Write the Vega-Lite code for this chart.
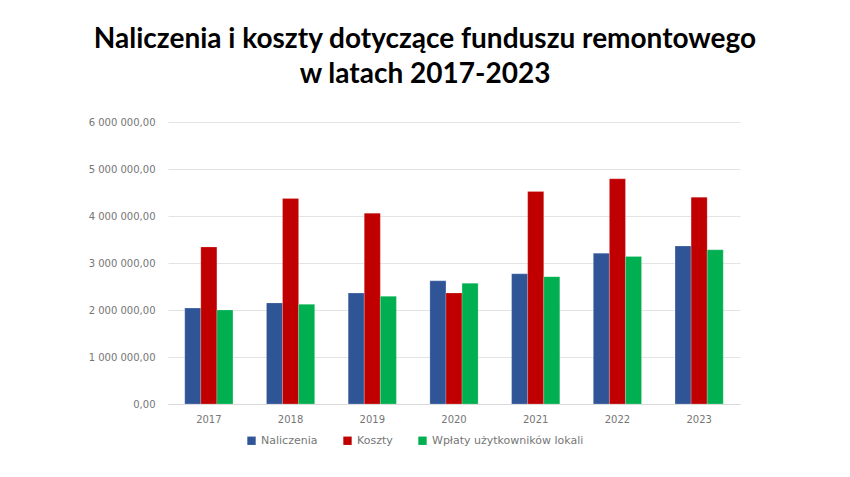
{
  "$schema": "https://vega.github.io/schema/vega-lite/v6.json",
  "autosize": "none",
  "width": 572,
  "height": 282,
  "padding": {"left": 168, "top": 122, "right": 110, "bottom": 73},
  "background": "white",
  "config": {
    "locale": {"number": {"decimal": ",", "thousands": " ", "grouping": [3], "currency": ["", ""]}},
    "view": {"stroke": null},
    "axis": {"labelFont": "DejaVu Sans", "labelColor": "#767676", "labelFontSize": 10}
  },
  "title": {
    "text": ["Naliczenia i koszty dotyczące funduszu remontowego", "w latach 2017-2023"],
    "font": "Lato",
    "fontSize": 28,
    "fontWeight": "bold",
    "color": "#000000",
    "anchor": "middle",
    "dx": -29,
    "offset": 28,
    "lineHeight": 35
  },
  "data": {
    "values": [
      {"rok": "2017", "seria": "Naliczenia", "kwota": 2040000},
      {"rok": "2017", "seria": "Koszty", "kwota": 3340000},
      {"rok": "2017", "seria": "Wpłaty użytkowników lokali", "kwota": 2000000},
      {"rok": "2018", "seria": "Naliczenia", "kwota": 2150000},
      {"rok": "2018", "seria": "Koszty", "kwota": 4370000},
      {"rok": "2018", "seria": "Wpłaty użytkowników lokali", "kwota": 2120000},
      {"rok": "2019", "seria": "Naliczenia", "kwota": 2360000},
      {"rok": "2019", "seria": "Koszty", "kwota": 4060000},
      {"rok": "2019", "seria": "Wpłaty użytkowników lokali", "kwota": 2290000},
      {"rok": "2020", "seria": "Naliczenia", "kwota": 2620000},
      {"rok": "2020", "seria": "Koszty", "kwota": 2360000},
      {"rok": "2020", "seria": "Wpłaty użytkowników lokali", "kwota": 2570000},
      {"rok": "2021", "seria": "Naliczenia", "kwota": 2770000},
      {"rok": "2021", "seria": "Koszty", "kwota": 4520000},
      {"rok": "2021", "seria": "Wpłaty użytkowników lokali", "kwota": 2710000},
      {"rok": "2022", "seria": "Naliczenia", "kwota": 3210000},
      {"rok": "2022", "seria": "Koszty", "kwota": 4790000},
      {"rok": "2022", "seria": "Wpłaty użytkowników lokali", "kwota": 3140000},
      {"rok": "2023", "seria": "Naliczenia", "kwota": 3360000},
      {"rok": "2023", "seria": "Koszty", "kwota": 4400000},
      {"rok": "2023", "seria": "Wpłaty użytkowników lokali", "kwota": 3280000}
    ]
  },
  "mark": {"type": "bar", "stroke": "#ffffff", "strokeOpacity": 0.4, "strokeWidth": 0.5},
  "encoding": {
    "x": {
      "field": "rok",
      "type": "nominal",
      "title": null,
      "scale": {"paddingInner": 0.41, "paddingOuter": 0.205},
      "axis": {"labelAngle": 0, "ticks": false, "domain": true, "domainColor": "#d9d9d9", "labelPadding": 10}
    },
    "xOffset": {"field": "seria", "sort": ["Naliczenia", "Koszty", "Wpłaty użytkowników lokali"]},
    "y": {
      "field": "kwota",
      "type": "quantitative",
      "title": null,
      "scale": {"domain": [0, 6000000]},
      "axis": {"values": [0, 1000000, 2000000, 3000000, 4000000, 5000000, 6000000], "format": ",.2f", "domain": false, "ticks": false, "gridColor": "#e3e3e3", "labelPadding": 13}
    },
    "color": {
      "field": "seria",
      "type": "nominal",
      "sort": ["Naliczenia", "Koszty", "Wpłaty użytkowników lokali"],
      "scale": {"domain": ["Naliczenia", "Koszty", "Wpłaty użytkowników lokali"], "range": ["#2F5597", "#C00000", "#00B050"]},
      "legend": {
        "title": null,
        "orient": "none",
        "direction": "horizontal",
        "legendX": 78,
        "legendY": 313,
        "symbolType": "square",
        "symbolSize": 70,
        "symbolStrokeWidth": 0,
        "labelFont": "DejaVu Sans",
        "labelFontSize": 11,
        "labelColor": "#767676",
        "columnPadding": 24
      }
    }
  }
}
